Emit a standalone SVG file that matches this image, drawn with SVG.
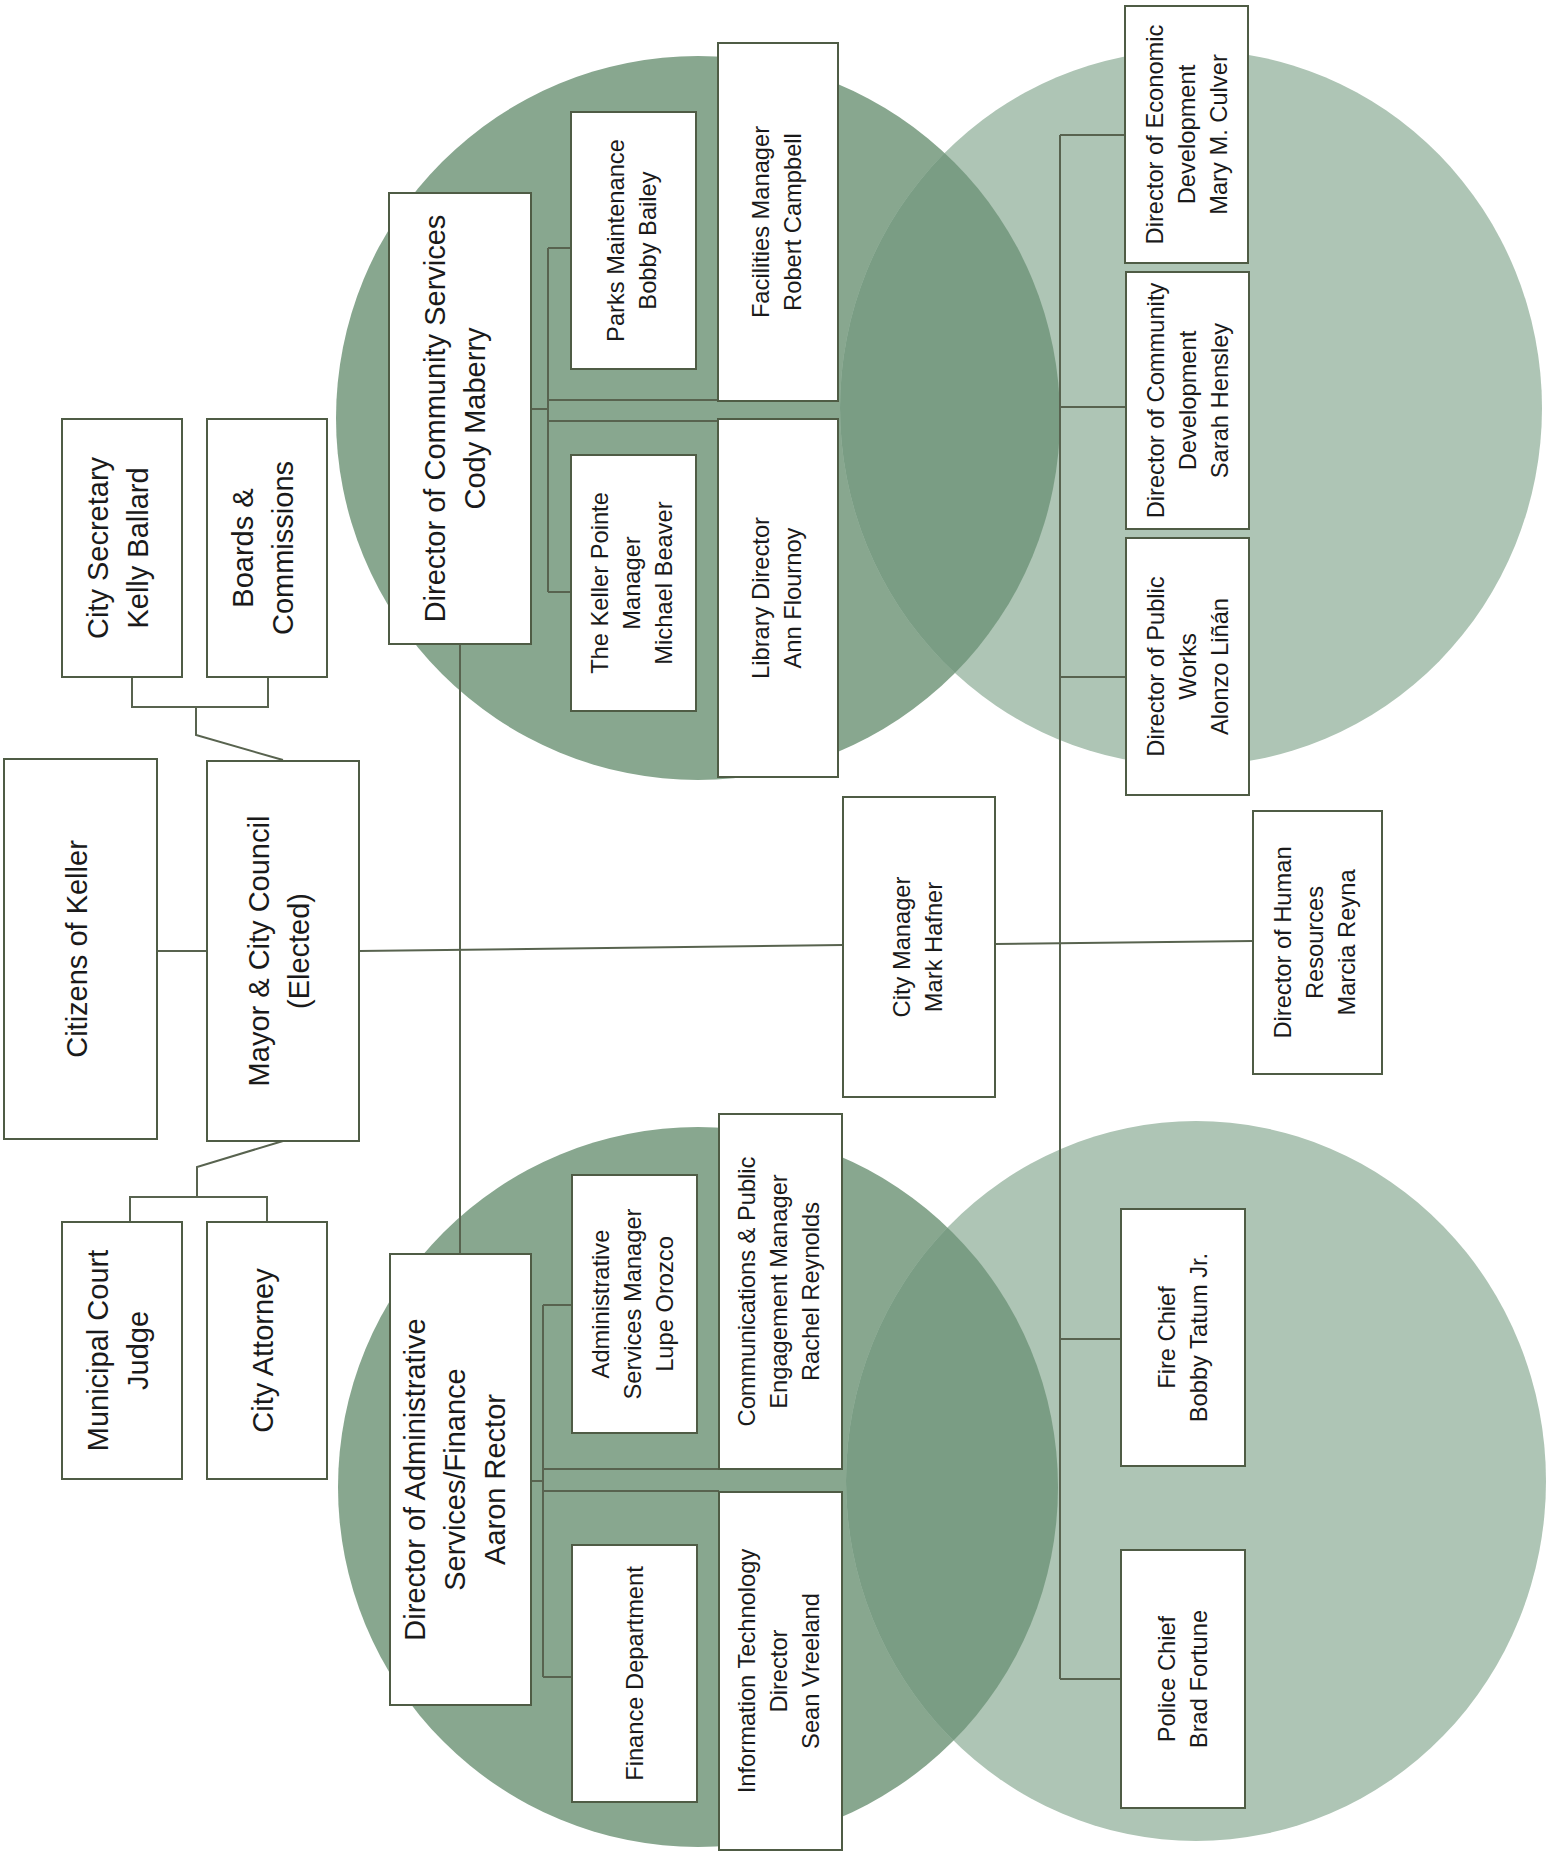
<svg xmlns="http://www.w3.org/2000/svg" width="1550" height="1859" viewBox="0 0 1550 1859">
<defs>
<style>
.bg{fill:#ffffff}
.dk{fill:#88a78f}
.lt{fill:#aec5b5}
.ov{fill:#7a9d84}
.box{fill:#ffffff;stroke:#4f5c45;stroke-width:2}
.ln{fill:none;stroke:#58634f;stroke-width:2}
.t{font-family:"Liberation Sans",Arial,sans-serif;font-size:29px;fill:#1a1a1a;text-anchor:middle}
.s{font-size:23.7px}
</style>
<clipPath id="clipTop"><circle cx="698" cy="418" r="362"/></clipPath>
<clipPath id="clipBot"><circle cx="698" cy="1487" r="360"/></clipPath>
</defs>
<rect class="bg" x="0" y="0" width="1550" height="1859"/>
<g id="backdrop">
<circle class="dk" cx="698" cy="418" r="362"/>
<ellipse class="lt" cx="1191" cy="408" rx="351" ry="358"/>
<ellipse class="ov" cx="1191" cy="408" rx="351" ry="358" clip-path="url(#clipTop)"/>
<circle class="dk" cx="698" cy="1487" r="360"/>
<ellipse class="lt" cx="1196" cy="1481" rx="350" ry="360"/>
<ellipse class="ov" cx="1196" cy="1481" rx="350" ry="360" clip-path="url(#clipBot)"/>
</g>
<g id="connectors">
<polyline class="ln" points="132,677 132,707 268,707 268,677"/>
<polyline class="ln" points="196,707 196,735 283,760"/>
<polyline class="ln" points="130,1222 130,1197 267,1197 267,1222"/>
<polyline class="ln" points="197,1197 197,1167 283,1141"/>
<line class="ln" x1="157" y1="951" x2="207" y2="951"/>
<line class="ln" x1="359" y1="951" x2="843" y2="945"/>
<line class="ln" x1="995" y1="944" x2="1253" y2="941"/>
<line class="ln" x1="460" y1="644" x2="460" y2="1254"/>
<line class="ln" x1="1060" y1="135" x2="1060" y2="1679"/>
<line class="ln" x1="1060" y1="135" x2="1125" y2="135"/>
<line class="ln" x1="1060" y1="407" x2="1126" y2="407"/>
<line class="ln" x1="1060" y1="677" x2="1126" y2="677"/>
<line class="ln" x1="1060" y1="1339" x2="1121" y2="1339"/>
<line class="ln" x1="1060" y1="1679" x2="1121" y2="1679"/>
<line class="ln" x1="531" y1="409" x2="548" y2="409"/>
<line class="ln" x1="548" y1="248" x2="548" y2="592"/>
<line class="ln" x1="548" y1="248" x2="571" y2="248"/>
<line class="ln" x1="548" y1="592" x2="571" y2="592"/>
<line class="ln" x1="548" y1="400" x2="718" y2="400"/>
<line class="ln" x1="548" y1="421" x2="718" y2="421"/>
<line class="ln" x1="531" y1="1481" x2="543" y2="1481"/>
<line class="ln" x1="543" y1="1305" x2="543" y2="1677"/>
<line class="ln" x1="543" y1="1305" x2="572" y2="1305"/>
<line class="ln" x1="543" y1="1677" x2="572" y2="1677"/>
<line class="ln" x1="543" y1="1469" x2="719" y2="1469"/>
<line class="ln" x1="543" y1="1491" x2="719" y2="1491"/>
</g>
<g id="citizens"><rect class="box" x="4" y="759" width="153" height="380"/>
<text class="t" transform="translate(77,949) rotate(-90)"><tspan x="0" y="10.4">Citizens of Keller</tspan></text></g>
<g id="mayor"><rect class="box" x="207" y="761" width="152" height="380"/>
<text class="t" transform="translate(279,951) rotate(-90)"><tspan x="0" y="-9.6">Mayor &amp; City Council</tspan><tspan x="0" y="30.4">(Elected)</tspan></text></g>
<g id="city-secretary"><rect class="box" x="62" y="419" width="120" height="258"/>
<text class="t" transform="translate(118,548) rotate(-90)"><tspan x="0" y="-9.6">City Secretary</tspan><tspan x="0" y="30.4">Kelly Ballard</tspan></text></g>
<g id="boards"><rect class="box" x="207" y="419" width="120" height="258"/>
<text class="t" transform="translate(263,548) rotate(-90)"><tspan x="0" y="-9.6">Boards &amp;</tspan><tspan x="0" y="30.4">Commissions</tspan></text></g>
<g id="municipal-court"><rect class="box" x="62" y="1222" width="120" height="257"/>
<text class="t" transform="translate(118,1350.5) rotate(-90)"><tspan x="0" y="-9.6">Municipal Court</tspan><tspan x="0" y="30.4">Judge</tspan></text></g>
<g id="city-attorney"><rect class="box" x="207" y="1222" width="120" height="257"/>
<text class="t" transform="translate(263,1350.5) rotate(-90)"><tspan x="0" y="10.4">City Attorney</tspan></text></g>
<g id="community-services"><rect class="box" x="389" y="193" width="142" height="451"/>
<text class="t" transform="translate(455,418.5) rotate(-90)"><tspan x="0" y="-9.6">Director of Community Services</tspan><tspan x="0" y="30.4">Cody Maberry</tspan></text></g>
<g id="parks"><rect class="box" x="571" y="112" width="125" height="257"/>
<text class="t s" transform="translate(631,240.5) rotate(-90)"><tspan x="0" y="-7.5">Parks Maintenance</tspan><tspan x="0" y="24.5">Bobby Bailey</tspan></text></g>
<g id="keller-pointe"><rect class="box" x="571" y="455" width="125" height="256"/>
<text class="t s" transform="translate(631,583) rotate(-90)"><tspan x="0" y="-23.5">The Keller Pointe</tspan><tspan x="0" y="8.5">Manager</tspan><tspan x="0" y="40.5">Michael Beaver</tspan></text></g>
<g id="facilities"><rect class="box" x="718" y="43" width="120" height="358"/>
<text class="t s" transform="translate(776,222) rotate(-90)"><tspan x="0" y="-7.5">Facilities Manager</tspan><tspan x="0" y="24.5">Robert Campbell</tspan></text></g>
<g id="library"><rect class="box" x="718" y="419" width="120" height="358"/>
<text class="t s" transform="translate(776,598) rotate(-90)"><tspan x="0" y="-7.5">Library Director</tspan><tspan x="0" y="24.5">Ann Flournoy</tspan></text></g>
<g id="economic-development"><rect class="box" x="1125" y="6" width="123" height="257"/>
<text class="t s" transform="translate(1186.5,134.5) rotate(-90)"><tspan x="0" y="-23.5">Director of Economic</tspan><tspan x="0" y="8.5">Development</tspan><tspan x="0" y="40.5">Mary M. Culver</tspan></text></g>
<g id="community-development"><rect class="box" x="1126" y="272" width="123" height="257"/>
<text class="t s" transform="translate(1187.5,400.5) rotate(-90)"><tspan x="0" y="-23.5">Director of Community</tspan><tspan x="0" y="8.5">Development</tspan><tspan x="0" y="40.5">Sarah Hensley</tspan></text></g>
<g id="public-works"><rect class="box" x="1126" y="538" width="123" height="257"/>
<text class="t s" transform="translate(1187.5,666.5) rotate(-90)"><tspan x="0" y="-23.5">Director of Public</tspan><tspan x="0" y="8.5">Works</tspan><tspan x="0" y="40.5">Alonzo Liñán</tspan></text></g>
<g id="city-manager"><rect class="box" x="843" y="797" width="152" height="300"/>
<text class="t s" transform="translate(917,947) rotate(-90)"><tspan x="0" y="-7.5">City Manager</tspan><tspan x="0" y="24.5">Mark Hafner</tspan></text></g>
<g id="human-resources"><rect class="box" x="1253" y="811" width="129" height="263"/>
<text class="t s" transform="translate(1314,942.5) rotate(-90)"><tspan x="0" y="-23.5">Director of Human</tspan><tspan x="0" y="8.5">Resources</tspan><tspan x="0" y="40.5">Marcia Reyna</tspan></text></g>
<g id="administrative-services"><rect class="box" x="390" y="1254" width="141" height="451"/>
<text class="t" transform="translate(454.5,1479.5) rotate(-90)"><tspan x="0" y="-29.6">Director of Administrative</tspan><tspan x="0" y="10.4">Services/Finance</tspan><tspan x="0" y="50.4">Aaron Rector</tspan></text></g>
<g id="admin-services-manager"><rect class="box" x="572" y="1175" width="125" height="258"/>
<text class="t s" transform="translate(632.5,1304) rotate(-90)"><tspan x="0" y="-23.5">Administrative</tspan><tspan x="0" y="8.5">Services Manager</tspan><tspan x="0" y="40.5">Lupe Orozco</tspan></text></g>
<g id="finance"><rect class="box" x="572" y="1545" width="125" height="257"/>
<text class="t s" transform="translate(634.5,1673.5) rotate(-90)"><tspan x="0" y="8.5">Finance Department</tspan></text></g>
<g id="communications"><rect class="box" x="719" y="1114" width="123" height="355"/>
<text class="t s" transform="translate(778.5,1291.5) rotate(-90)"><tspan x="0" y="-23.5">Communications &amp; Public</tspan><tspan x="0" y="8.5">Engagement Manager</tspan><tspan x="0" y="40.5">Rachel Reynolds</tspan></text></g>
<g id="information-technology"><rect class="box" x="719" y="1492" width="123" height="358"/>
<text class="t s" transform="translate(778.5,1671) rotate(-90)"><tspan x="0" y="-23.5">Information Technology</tspan><tspan x="0" y="8.5">Director</tspan><tspan x="0" y="40.5">Sean Vreeland</tspan></text></g>
<g id="fire-chief"><rect class="box" x="1121" y="1209" width="124" height="257"/>
<text class="t s" transform="translate(1182,1337.5) rotate(-90)"><tspan x="0" y="-7.5">Fire Chief</tspan><tspan x="0" y="24.5">Bobby Tatum Jr.</tspan></text></g>
<g id="police-chief"><rect class="box" x="1121" y="1550" width="124" height="258"/>
<text class="t s" transform="translate(1182,1679) rotate(-90)"><tspan x="0" y="-7.5">Police Chief</tspan><tspan x="0" y="24.5">Brad Fortune</tspan></text></g>
</svg>
